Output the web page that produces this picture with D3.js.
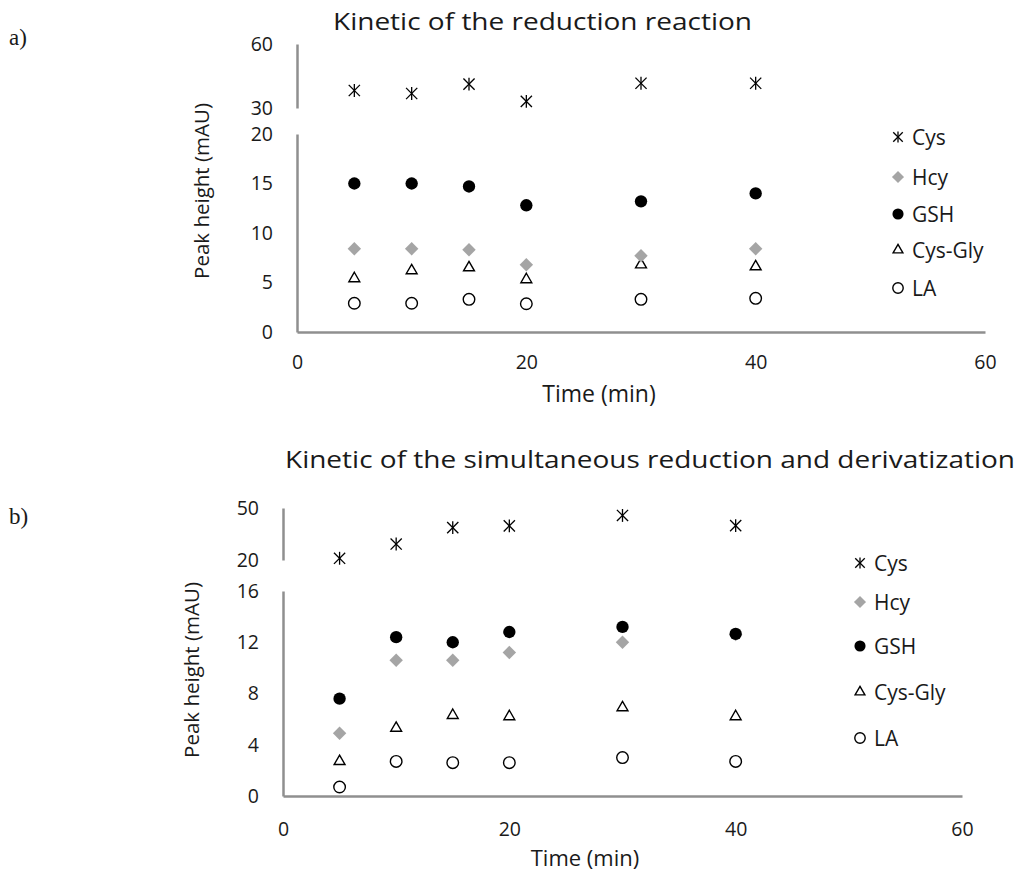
<!DOCTYPE html>
<html>
<head>
<meta charset="utf-8">
<script src="https://cdn.jsdelivr.net/npm/d3@7"></script>
<style>
  html, body { margin: 0; padding: 0; background: #fff; }
  svg text { font-family: "Open Sans", sans-serif; fill: #1a1a1a; }
</style>
</head>
<body>
<svg id="chart" width="1018" height="874"></svg>
<script>
// ---------- data ----------
const times = [5, 10, 15, 20, 30, 40];
const seriesNames = ["Cys", "Hcy", "GSH", "Cys-Gly", "LA"];
const xTicks = [0, 20, 40, 60];

// panel a
const titleA = "Kinetic of the reduction reaction";
const aCys    = [38.2, 36.8, 41.2, 33.1, 41.6, 41.6];
const aHcy    = [8.4, 8.4, 8.3, 6.8, 7.7, 8.4];
const aGSH    = [15.0, 15.0, 14.7, 12.8, 13.2, 14.0];
const aCysGly = [5.4, 6.2, 6.5, 5.3, 6.8, 6.6];
const aLA     = [2.9, 2.9, 3.3, 2.85, 3.3, 3.4];
const aLowerTicks = [0, 5, 10, 15, 20];
const aUpperTicks = [30, 60];

// panel b
const titleB = "Kinetic of the simultaneous reduction and derivatization";
const bCys    = [21.0, 29.2, 38.7, 39.7, 45.7, 39.8];
const bHcy    = [4.9, 10.6, 10.6, 11.2, 12.0, 12.6];
const bGSH    = [7.6, 12.4, 12.0, 12.8, 13.2, 12.65];
const bCysGly = [2.7, 5.3, 6.3, 6.2, 6.9, 6.2];
const bLA     = [0.7, 2.7, 2.6, 2.6, 3.0, 2.7];
const bLowerTicks = [0, 4, 8, 12, 16];
const bUpperTicks = [20, 50];

// ---------- drawing ----------
const svg = d3.select("#chart");
const axisColor = "#8f8f8f";

const markerStyle = {
  "Cys":     { type: "asterisk" },
  "Hcy":     { type: d3.symbolDiamond2, size: 115, fill: "#a5a5a5", stroke: "none" },
  "GSH":     { type: d3.symbolCircle, size: 120, fill: "#000", stroke: "none" },
  "Cys-Gly": { type: d3.symbolTriangle2, size: 85, fill: "none", stroke: "#000" },
  "LA":      { type: d3.symbolCircle, size: 105, fill: "none", stroke: "#000" }
};

function drawMarker(g, name, x, y, scale) {
  const s = markerStyle[name];
  scale = scale || 1;
  if (s.type === "asterisk") {
    const r = 5.6 * scale;
    const gg = g.append("g").attr("transform", `translate(${x},${y})`)
      .attr("stroke", "#000").attr("stroke-width", 1.3);
    gg.append("line").attr("x1", -r).attr("y1", -r).attr("x2", r).attr("y2", r);
    gg.append("line").attr("x1", -r).attr("y1", r).attr("x2", r).attr("y2", -r);
    gg.append("line").attr("x1", 0).attr("y1", -r * 1.15).attr("x2", 0).attr("y2", r * 1.15);
  } else {
    g.append("path")
      .attr("d", d3.symbol().type(s.type).size(s.size * scale * scale)())
      .attr("transform", `translate(${x},${y})`)
      .attr("fill", s.fill).attr("stroke", s.stroke).attr("stroke-width", 1.4);
  }
}

function drawPanel(cfg) {
  const g = svg.append("g");
  const x = d3.scaleLinear().domain([0, 60]).range(cfg.xRange);
  const yLow = d3.scaleLinear().domain(cfg.lowDomain).range(cfg.lowRange);
  const yUp = d3.scaleLinear().domain(cfg.upDomain).range(cfg.upRange);

  // label a)/b)
  g.append("text").attr("x", cfg.tagPos[0]).attr("y", cfg.tagPos[1])
    .style("font-family", "'Liberation Serif', serif").style("font-size", "23px")
    .text(cfg.tag);

  // title
  g.append("text").attr("x", cfg.titlePos[0]).attr("y", cfg.titlePos[1])
    .attr("text-anchor", "middle").style("font-size", "23px")
    .attr("textLength", cfg.titleWidth).attr("lengthAdjust", "spacingAndGlyphs")
    .text(cfg.title);

  // lower y axis
  const ya = g.append("g").attr("transform", `translate(${cfg.xRange[0]},0)`)
    .call(d3.axisLeft(yLow).tickValues(cfg.lowTicks).tickSize(0).tickSizeOuter(0).tickPadding(cfg.yPad));
  // upper y axis
  const yb = g.append("g").attr("transform", `translate(${cfg.xRange[0]},0)`)
    .call(d3.axisLeft(yUp).tickValues(cfg.upTicks).tickSize(0).tickSizeOuter(0).tickPadding(cfg.yPad));
  // x axis
  const xa = g.append("g").attr("transform", `translate(0,${cfg.lowRange[0]})`)
    .call(d3.axisBottom(x).tickValues(xTicks).tickSize(0).tickSizeOuter(0).tickPadding(cfg.xPad));

  [ya, yb, xa].forEach(a => {
    a.select(".domain").attr("stroke", axisColor).attr("stroke-width", 2.5);
    a.selectAll("text").style("font-size", "19.5px").style("font-family", "'Open Sans', sans-serif").attr("fill", "#1a1a1a");
  });

  // axis titles
  g.append("text")
    .attr("transform", `translate(${cfg.yTitlePos[0]},${cfg.yTitlePos[1]}) rotate(-90)`)
    .attr("text-anchor", "middle").style("font-size", "20.5px").text("Peak height (mAU)");
  g.append("text").attr("x", cfg.xTitlePos[0]).attr("y", cfg.xTitlePos[1])
    .attr("text-anchor", "middle").style("font-size", cfg.xTitleSize).text("Time (min)");

  // points (GSH drawn after Hcy so it sits on top)
  const order = ["LA", "Cys-Gly", "Hcy", "GSH", "Cys"];
  order.forEach(name => {
    const vals = cfg.series[name];
    vals.forEach((v, i) => {
      const yy = name === "Cys" ? yUp(v) : yLow(v);
      drawMarker(g, name, x(times[i]), yy);
    });
  });

  // legend
  seriesNames.forEach((name, i) => {
    const ly = cfg.legendY[i];
    drawMarker(g, name, cfg.legendX, ly, name === "Cys" ? 0.85 : 0.9);
    g.append("text").attr("x", cfg.legendX + 14).attr("y", ly).attr("dy", "0.36em")
      .style("font-size", "21px").text(name);
  });
}

drawPanel({
  tag: "a)", tagPos: [9, 45],
  title: titleA, titlePos: [542.5, 30], titleWidth: 419,
  xRange: [297, 985], yPad: 24, xPad: 23,
  lowDomain: [0, 20], lowRange: [332, 134], lowTicks: aLowerTicks,
  upDomain: [30, 60], upRange: [108, 44], upTicks: aUpperTicks,
  yTitlePos: [209, 191], xTitlePos: [599, 402], xTitleSize: "23px",
  series: { "Cys": aCys, "Hcy": aHcy, "GSH": aGSH, "Cys-Gly": aCysGly, "LA": aLA },
  legendX: 898, legendY: [137, 177, 214, 250, 288]
});

drawPanel({
  tag: "b)", tagPos: [9, 524],
  title: titleB, titlePos: [650, 468], titleWidth: 730,
  xRange: [283, 962], yPad: 24, xPad: 26,
  lowDomain: [0, 16], lowRange: [796, 591], lowTicks: bLowerTicks,
  upDomain: [20, 50], upRange: [560, 508], upTicks: bUpperTicks,
  yTitlePos: [199, 670], xTitlePos: [585, 866], xTitleSize: "22px",
  series: { "Cys": bCys, "Hcy": bHcy, "GSH": bGSH, "Cys-Gly": bCysGly, "LA": bLA },
  legendX: 860, legendY: [563, 602, 646, 692, 738]
});
</script>
</body>
</html>
